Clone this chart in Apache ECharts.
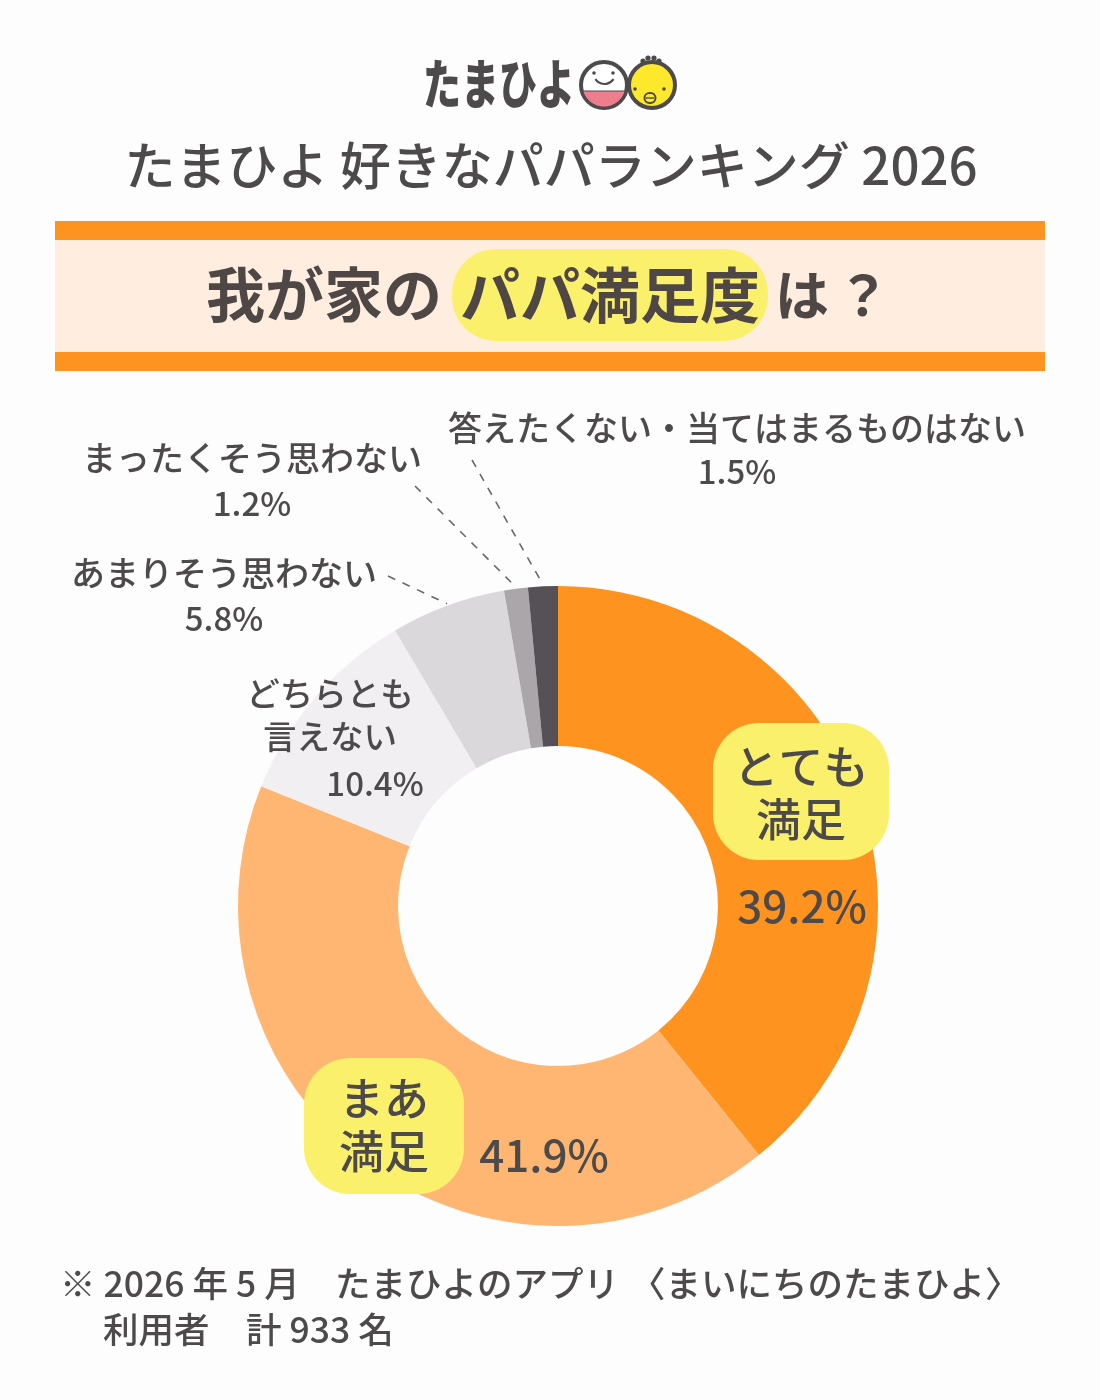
<!DOCTYPE html>
<html lang="ja">
<head>
<meta charset="utf-8">
<title>たまひよ 好きなパパランキング 2026</title>
<style>html,body{margin:0;padding:0;background:#fff}#chart{width:1100px;height:1400px}</style>
<script src="https://cdn.jsdelivr.net/npm/echarts@6/dist/echarts.min.js"></script>
</head>
<body>
<div id="chart"></div>
<script>
// Survey answers, clockwise from twelve o'clock
const categories = ['とても満足', 'まあ満足', 'どちらとも言えない', 'あまりそう思わない', 'まったくそう思わない', '答えたくない・当てはまるものはない'];
const shares = [39.2, 41.9, 10.4, 5.8, 1.2, 1.5];
const sliceColors = ['#ff9320', '#ffb672', '#f1eff2', '#dbd8db', '#aaa6aa', '#555156'];

const INK = '#4d4a4c';
const FONT = '"Noto Sans CJK JP","Noto Sans",sans-serif';
const CX = 558, CY = 906, R_OUT = 320, R_IN = 160;

const font = (size, weight) => `${weight || 500} ${size}px ${FONT}`;
const txt = (text, x, y, size, opts) => Object.assign({
  type: 'text', z: 10,
  style: Object.assign({ text, x, y, font: font(size, opts && opts.weight), fill: INK, align: 'center', verticalAlign: 'middle' }, opts && opts.style)
}, opts && opts.el);
const rect = (x, y, width, height, fill, r, z) => ({ type: 'rect', z: z || 1, shape: { x, y, width, height, r: r || 0 }, style: { fill } });
const circle = (cx, cy, r, fill, stroke, lineWidth) => ({ type: 'circle', z: 10, shape: { cx, cy, r }, style: { fill, stroke, lineWidth } });

// Point on the pie's rim at the middle of a slice
function rimPoint(index, radius) {
  const before = shares.slice(0, index).reduce((a, b) => a + b, 0);
  const total = shares.reduce((a, b) => a + b, 0);
  const a = (before + shares[index] / 2) / total * 2 * Math.PI;
  return [CX + Math.sin(a) * radius, CY - Math.cos(a) * radius];
}
// Dashed leader running from a label's corner down to its slice
const leader = (index, x1, y1) => {
  const [x2, y2] = rimPoint(index, R_OUT + 2);
  return { type: 'line', z: 5, shape: { x1, y1, x2, y2 }, style: { stroke: '#6b686c', lineWidth: 1.6, lineDash: [8, 8] } };
};

// Lower part of a circle below a horizontal cut, as a polygon
function chord(cx, cy, r, cut) {
  const points = [];
  const start = Math.asin(cut / r);
  for (let i = 0; i <= 24; i++) {
    const a = start + (Math.PI - 2 * start) * i / 24;
    points.push([cx + Math.cos(a) * r, cy + Math.sin(a) * r]);
  }
  return points;
}

const logo = [
  txt('たまひよ', 499, 84, 38, { weight: 900, el: { originX: 499, originY: 84, scaleY: 1.4, scaleX: 1.0 } }),
  // round baby face
  circle(604, 85, 23, '#ffffff', INK, 4),
  { type: 'polygon', z: 11, shape: { points: chord(604, 85, 21.5, 6) }, style: { fill: '#ee7d8e' } },
  { type: 'line', z: 11, shape: { x1: 583, y1: 91, x2: 625, y2: 91 }, style: { stroke: INK, lineWidth: 1 } },
  circle(594, 73, 1.8, INK), circle(613, 73, 1.8, INK),
  { type: 'arc', z: 11, shape: { cx: 604.5, cy: 73, r: 11, startAngle: 0.6, endAngle: 2.54 }, style: { stroke: INK, lineWidth: 2.2, fill: 'none' } },
  // chick face
  circle(652, 85, 23, '#fde82c', INK, 4),
  circle(643, 61, 2.6, INK), circle(648, 58, 2.6, INK), circle(654, 58, 2.6, INK), circle(659, 61, 2.6, INK),
  circle(635, 89, 1.8, INK), circle(664, 89, 1.8, INK),
  { type: 'rect', z: 11, shape: { x: 644.5, y: 93, width: 11, height: 10, r: 5 }, style: { fill: 'transparent', stroke: INK, lineWidth: 2 } },
  { type: 'line', z: 11, shape: { x1: 646, y1: 98, x2: 654, y2: 98 }, style: { stroke: INK, lineWidth: 1.4 } }
];

const banner = [
  rect(55, 221, 990, 19, '#ff9320'),
  rect(55, 240, 990, 112, '#ffeee0'),
  rect(55, 352, 990, 19, '#ff9320'),
  rect(452, 249, 316, 92, '#fbf06c', 44, 2),
  txt('我が家の', 324, 295, 59, { weight: 700, style: { fill: '#4f4746' } }),
  txt('パパ満足度', 610, 295, 60, { weight: 700, style: { fill: '#4f4746' } }),
  txt('は', 802, 295, 54, { weight: 700, style: { fill: '#4f4746' } }),
  txt('？', 863, 295, 54, { weight: 700, style: { fill: '#4f4746' } })
];

const pct = i => `${shares[i].toFixed(1)}%`;

const sliceLabels = [
  // leading answers sit on yellow tags over their slices
  rect(713, 723, 176, 137, '#fbf06c', 46, 8),
  txt('とても', 801, 767, 45),
  txt('満足', 801, 820, 45),
  txt(pct(0), 802, 906, 44),
  rect(304, 1058, 160, 136, '#fbf06c', 46, 8),
  txt('まあ', 384, 1099, 45),
  txt('満足', 384, 1152, 45),
  txt(pct(1), 544, 1155, 44),
  // quieter answers
  txt('どちらとも', 330, 693, 33.5),
  txt('言えない', 330, 736, 33.5),
  txt(pct(2), 375, 783, 33),
  txt('あまりそう思わない', 224, 573, 34),
  txt(pct(3), 224, 618, 33),
  txt('まったくそう思わない', 252, 458, 34),
  txt(pct(4), 252, 503, 33),
  txt('答えたくない・当てはまるものはない', 737, 428, 34),
  txt(pct(5), 737, 471, 33),
  leader(3, 388, 576),
  leader(4, 415, 486),
  leader(5, 472, 460)
];

const left = { style: { align: 'left' } };
const footer = [
  txt('※ 2026 年 5 月', 60, 1284, 35.5, left),
  txt('たまひよのアプリ', 335, 1284, 35.5, left),
  txt('〈まいにちのたまひよ〉', 630, 1284, 35.5, left),
  txt('利用者', 103, 1330, 35.5, left),
  txt('計 933 名', 246, 1330, 35.5, left)
];

const chart = echarts.init(document.getElementById('chart'), null, { renderer: 'canvas' });
chart.setOption({
  animation: false,
  backgroundColor: '#fefdfe',
  graphic: { elements: [
    ...logo,
    txt('たまひよ 好きなパパランキング 2026', 551, 166, 51),
    ...banner,
    ...sliceLabels,
    ...footer
  ] },
  series: [{
    type: 'pie',
    center: [CX, CY],
    radius: [R_IN, R_OUT],
    startAngle: 90,
    clockwise: true,
    avoidLabelOverlap: false,
    silent: true,
    label: { show: false },
    labelLine: { show: false },
    data: categories.map((name, i) => ({ name, value: shares[i], itemStyle: { color: sliceColors[i] } }))
  }]
});
</script>
</body>
</html>
